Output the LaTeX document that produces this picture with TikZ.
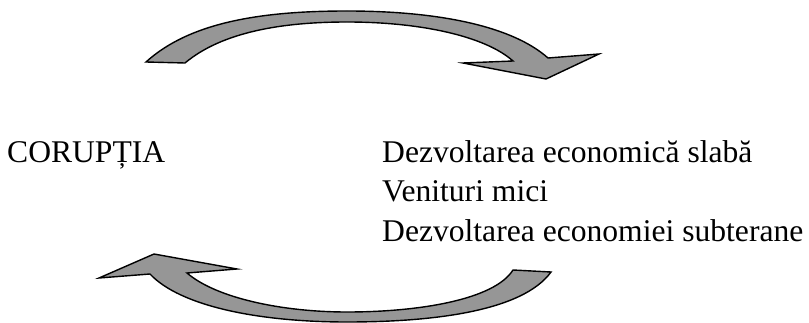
\documentclass[tikz,border=0pt]{standalone}
\usepackage{fontspec}
\setmainfont{Liberation Serif}
\usepackage{tikz}
\usetikzlibrary{positioning}

\begin{document}
\begin{tikzpicture}[x=1pt, y=-1pt,
        bandarrow/.style={draw=black, fill=black!41, line width=1.4pt, line join=miter},
        label/.style={inner sep=0pt, font=\fontsize{31.6}{40}\selectfont}]
    \useasboundingbox (0,0) rectangle (809,323);
    % ciclul de sus
    \draw[bandarrow] (146,62) .. controls (190,22) and (262,11) .. (347,11)
        .. controls (438,11) and (512,26) .. (548,58) -- (599,54) -- (546,79) -- (463,63) -- (513,61)
        .. controls (485,36) and (420,22) .. (347,22)
        .. controls (282,22) and (222,32) .. (185,63) -- cycle;
    % ciclul de jos
    \draw[bandarrow] (551,272) .. controls (522,312) and (430,322) .. (347,322)
        .. controls (258,322) and (180,306) .. (150,274) -- (99,278) -- (154,254) -- (237,269) -- (187,273)
        .. controls (216,298) and (282,312) .. (347,312)
        .. controls (418,312) and (494,300) .. (513,270) -- cycle;
    \node[label, anchor=base west] (cor) at (7,163) {CORUPȚIA};
    \node[label, anchor=base west] (dez) at (382,163) {Dezvoltarea economică slabă};
    \node[label, anchor=base west] (ven) at (382,202) {Venituri mici};
    \node[label, anchor=base west] (sub) at (382,242) {Dezvoltarea economiei subterane};
\end{tikzpicture}
\end{document}
